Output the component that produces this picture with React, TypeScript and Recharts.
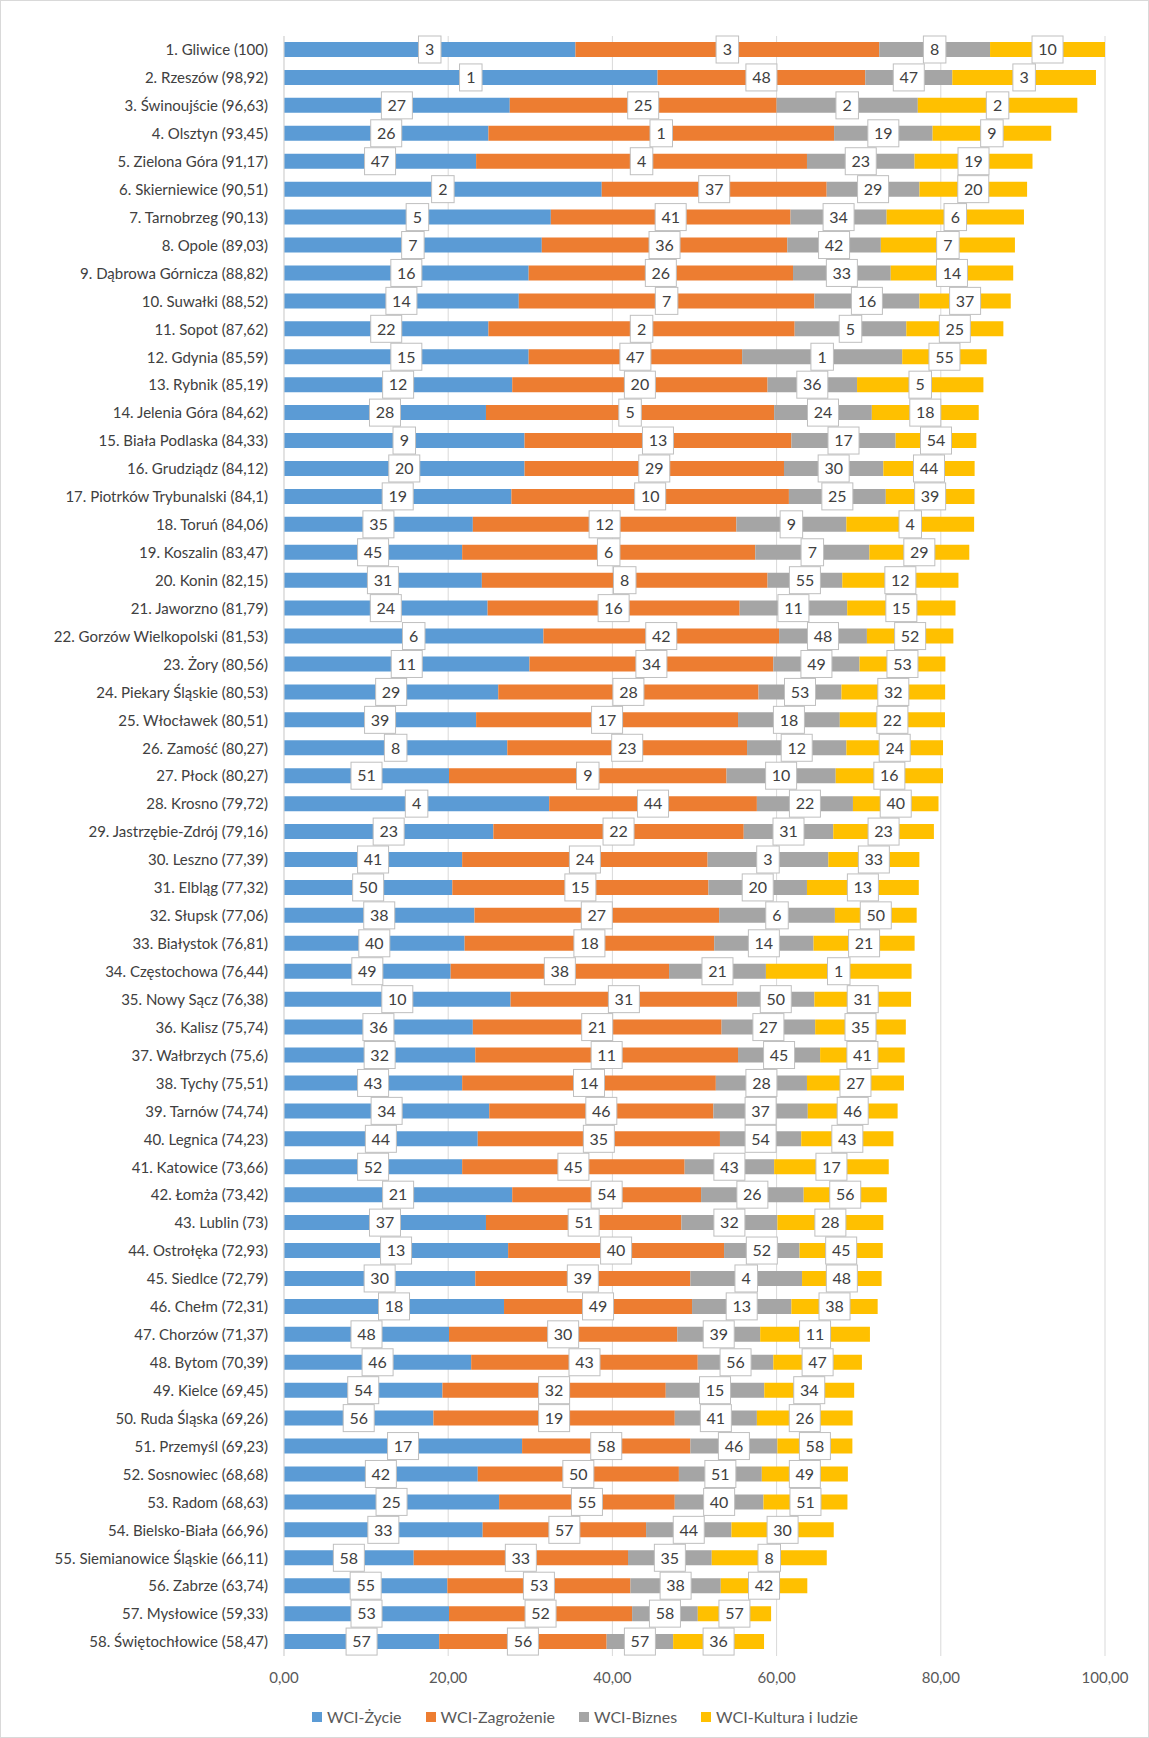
import React from "react";
import { BarChart, Bar, XAxis, YAxis, CartesianGrid, Legend, LabelList } from "recharts";

const cities = [
  "1. Gliwice (100)", "2. Rzeszów (98,92)", "3. Świnoujście (96,63)", "4. Olsztyn (93,45)",
  "5. Zielona Góra (91,17)", "6. Skierniewice (90,51)", "7. Tarnobrzeg (90,13)", "8. Opole (89,03)",
  "9. Dąbrowa Górnicza (88,82)", "10. Suwałki (88,52)", "11. Sopot (87,62)", "12. Gdynia (85,59)",
  "13. Rybnik (85,19)", "14. Jelenia Góra (84,62)", "15. Biała Podlaska (84,33)", "16. Grudziądz (84,12)",
  "17. Piotrków Trybunalski (84,1)", "18. Toruń (84,06)", "19. Koszalin (83,47)", "20. Konin (82,15)",
  "21. Jaworzno (81,79)", "22. Gorzów Wielkopolski (81,53)", "23. Żory (80,56)", "24. Piekary Śląskie (80,53)",
  "25. Włocławek (80,51)", "26. Zamość (80,27)", "27. Płock (80,27)", "28. Krosno (79,72)",
  "29. Jastrzębie-Zdrój (79,16)", "30. Leszno (77,39)", "31. Elbląg (77,32)", "32. Słupsk (77,06)",
  "33. Białystok (76,81)", "34. Częstochowa (76,44)", "35. Nowy Sącz (76,38)", "36. Kalisz (75,74)",
  "37. Wałbrzych (75,6)", "38. Tychy (75,51)", "39. Tarnów (74,74)", "40. Legnica (74,23)",
  "41. Katowice (73,66)", "42. Łomża (73,42)", "43. Lublin (73)", "44. Ostrołęka (72,93)",
  "45. Siedlce (72,79)", "46. Chełm (72,31)", "47. Chorzów (71,37)", "48. Bytom (70,39)",
  "49. Kielce (69,45)", "50. Ruda Śląska (69,26)", "51. Przemyśl (69,23)", "52. Sosnowiec (68,68)",
  "53. Radom (68,63)", "54. Bielsko-Biała (66,96)", "55. Siemianowice Śląskie (66,11)", "56. Zabrze (63,74)",
  "57. Mysłowice (59,33)", "58. Świętochłowice (58,47)",
];

const zycie = [
  35.5, 45.5, 27.5, 24.9, 23.4, 38.7, 32.5, 31.4, 29.8, 28.6,
  24.9, 29.8, 27.8, 24.6, 29.3, 29.3, 27.7, 23.0, 21.7, 24.1,
  24.8, 31.6, 29.9, 26.1, 23.4, 27.2, 20.1, 32.3, 25.5, 21.7,
  20.5, 23.2, 22.0, 20.3, 27.6, 23.0, 23.3, 21.7, 25.0, 23.6,
  21.7, 27.8, 24.6, 27.3, 23.3, 26.8, 20.1, 22.8, 19.3, 18.2,
  29.0, 23.6, 26.2, 24.2, 15.8, 19.9, 20.1, 18.9,
];
const zagrozenie = [
  37.0, 25.3, 32.5, 42.1, 40.3, 27.4, 29.2, 29.9, 32.2, 36.0,
  37.3, 26.0, 31.1, 35.1, 32.5, 31.6, 33.8, 32.1, 35.7, 34.8,
  30.7, 28.7, 29.7, 31.7, 31.9, 29.2, 33.8, 25.3, 30.5, 29.9,
  31.2, 29.8, 30.4, 26.6, 27.6, 30.3, 32.0, 30.9, 27.3, 29.5,
  27.1, 23.0, 23.8, 26.3, 26.2, 22.9, 27.8, 27.6, 27.2, 29.4,
  20.5, 24.5, 21.4, 19.9, 26.1, 22.3, 22.3, 20.4,
];
const biznes = [
  13.5, 10.6, 17.2, 12.0, 13.1, 11.3, 11.7, 11.4, 11.9, 12.8,
  13.6, 19.5, 10.9, 11.9, 12.7, 12.1, 11.8, 13.4, 13.9, 9.1,
  13.1, 10.7, 10.5, 10.1, 12.4, 12.1, 13.3, 11.7, 10.9, 14.7,
  12.0, 14.1, 12.1, 11.8, 9.4, 11.4, 10.0, 11.1, 11.5, 9.9,
  10.9, 12.5, 11.7, 9.2, 13.6, 12.1, 10.1, 9.2, 12.0, 10.0,
  10.6, 10.1, 10.8, 10.4, 10.2, 11.0, 8.0, 8.1,
];
const kultura = [
  14.0, 17.5, 19.43, 14.45, 14.37, 13.11, 16.73, 16.33, 14.92, 11.12,
  11.82, 10.29, 15.39, 13.02, 9.83, 11.12, 10.8, 15.56, 12.17, 14.15,
  13.19, 10.53, 10.46, 12.63, 12.81, 11.77, 13.07, 10.42, 12.26, 11.09,
  13.62, 9.96, 12.31, 17.74, 11.78, 11.04, 10.3, 11.81, 10.94, 11.23,
  13.96, 10.12, 12.9, 10.13, 9.69, 10.51, 13.37, 10.79, 10.95, 11.66,
  9.13, 10.48, 10.23, 12.46, 14.01, 10.54, 8.93, 11.07,
];

// rank labels shown in the boxes
const rankZycie = [3, 1, 27, 26, 47, 2, 5, 7, 16, 14, 22, 15, 12, 28, 9, 20, 19, 35, 45, 31, 24, 6, 11, 29, 39, 8, 51, 4, 23, 41, 50, 38, 40, 49, 10, 36, 32, 43, 34, 44, 52, 21, 37, 13, 30, 18, 48, 46, 54, 56, 17, 42, 25, 33, 58, 55, 53, 57];
const rankZagrozenie = [3, 48, 25, 1, 4, 37, 41, 36, 26, 7, 2, 47, 20, 5, 13, 29, 10, 12, 6, 8, 16, 42, 34, 28, 17, 23, 9, 44, 22, 24, 15, 27, 18, 38, 31, 21, 11, 14, 46, 35, 45, 54, 51, 40, 39, 49, 30, 43, 32, 19, 58, 50, 55, 57, 33, 53, 52, 56];
const rankBiznes = [8, 47, 2, 19, 23, 29, 34, 42, 33, 16, 5, 1, 36, 24, 17, 30, 25, 9, 7, 55, 11, 48, 49, 53, 18, 12, 10, 22, 31, 3, 20, 6, 14, 21, 50, 27, 45, 28, 37, 54, 43, 26, 32, 52, 4, 13, 39, 56, 15, 41, 46, 51, 40, 44, 35, 38, 58, 57];
const rankKultura = [10, 3, 2, 9, 19, 20, 6, 7, 14, 37, 25, 55, 5, 18, 54, 44, 39, 4, 29, 12, 15, 52, 53, 32, 22, 24, 16, 40, 23, 33, 13, 50, 21, 1, 31, 35, 41, 27, 46, 43, 17, 56, 28, 45, 48, 38, 11, 47, 34, 26, 58, 49, 51, 30, 8, 42, 57, 36];

const seriesNames = ["WCI-Życie", "WCI-Zagrożenie", "WCI-Biznes", "WCI-Kultura i ludzie"];
const seriesColors = ["#5B9BD5", "#ED7D31", "#A5A5A5", "#FFC000"];

const xTicks = [0, 20, 40, 60, 80, 100];

const data = cities.map((name, i) => ({
  name,
  zycie: zycie[i],
  zagrozenie: zagrozenie[i],
  biznes: biznes[i],
  kultura: kultura[i],
  rZ: rankZycie[i],
  rG: rankZagrozenie[i],
  rB: rankBiznes[i],
  rK: rankKultura[i],
}));

const FONT = "Lato, 'Open Sans', sans-serif";

const RankBox = (props: any) => {
  const { x, y, width, height, value } = props;
  const cx = x + width / 2;
  const cy = y + height / 2;
  const w = 14 + String(value).length * 8.5;
  const h = 27;
  return (
    <g>
      <rect x={cx - w / 2} y={cy - h / 2} width={w} height={h} fill="#ffffff" stroke="#bfbfbf" strokeWidth={1} />
      <text x={cx} y={cy} dy="0.36em" textAnchor="middle" fontSize={16} fill="#404040" fontFamily={FONT}>
        {value}
      </text>
    </g>
  );
};

const LegendBox = () => (
  <div
    style={{
      display: "flex",
      justifyContent: "center",
      gap: 24,
      paddingLeft: 64,
      fontSize: 16,
      lineHeight: "20px",
      color: "#595959",
      fontFamily: FONT,
    }}
  >
    {seriesNames.map((n, i) => (
      <span key={n} style={{ display: "inline-flex", alignItems: "center" }}>
        <span style={{ display: "inline-block", width: 10, height: 10, background: seriesColors[i], marginRight: 5 }} />
        {n}
      </span>
    ))}
  </div>
);

export default function App() {
  return (
    <div
      style={{
        position: "absolute",
        left: 0,
        top: 0,
        width: 1149,
        height: 1738,
        background: "#fff",
        boxSizing: "border-box",
        border: "1px solid #d9d9d9",
        fontFamily: FONT,
      }}
    >
      <BarChart
        width={1147}
        height={1736}
        data={data}
        layout="vertical"
        barSize={15}
        margin={{ top: 35, right: 43, left: 0, bottom: 10 }}
      >
        <CartesianGrid horizontal={false} stroke="#d9d9d9" />
        <XAxis
          type="number"
          domain={[0, 100]}
          ticks={xTicks}
          tickFormatter={(v: number) => v.toFixed(2).replace(".", ",")}
          axisLine={false}
          tickLine={false}
          tickMargin={10}
          height={51}
          tick={{ fill: "#595959", fontSize: 15, fontFamily: FONT }}
        />
        <YAxis
          type="category"
          dataKey="name"
          width={283}
          interval={0}
          axisLine={{ stroke: "#d9d9d9" }}
          tickLine={false}
          tickMargin={10}
          tick={{ fill: "#404040", fontSize: 15, fontFamily: FONT }}
        />
        <Legend verticalAlign="bottom" content={LegendBox} />
        <Bar dataKey="zycie" name={seriesNames[0]} stackId="a" fill={seriesColors[0]} isAnimationActive={false}>
          <LabelList dataKey="rZ" content={RankBox} />
        </Bar>
        <Bar dataKey="zagrozenie" name={seriesNames[1]} stackId="a" fill={seriesColors[1]} isAnimationActive={false}>
          <LabelList dataKey="rG" content={RankBox} />
        </Bar>
        <Bar dataKey="biznes" name={seriesNames[2]} stackId="a" fill={seriesColors[2]} isAnimationActive={false}>
          <LabelList dataKey="rB" content={RankBox} />
        </Bar>
        <Bar dataKey="kultura" name={seriesNames[3]} stackId="a" fill={seriesColors[3]} isAnimationActive={false}>
          <LabelList dataKey="rK" content={RankBox} />
        </Bar>
      </BarChart>
    </div>
  );
}
